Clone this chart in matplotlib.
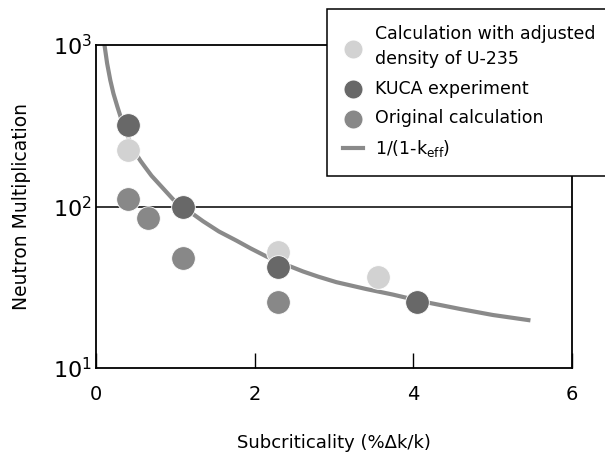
import matplotlib
matplotlib.use("Agg")
import matplotlib.pyplot as plt

plt.rcParams.update({
    "font.family": ["DejaVu Sans"],
    "font.size": 13,
    "mathtext.default": "regular",
})

# data (x in %dk/k, y = neutron multiplication)
adj_x = [0.40, 2.30, 3.55]
adj_y = [225, 52, 36.7]

kuca_x = [0.40, 1.10, 2.30, 4.05]
kuca_y = [318, 99, 42, 25.8]

orig_x = [0.40, 0.65, 1.10, 2.30]
orig_y = [111.7, 84.5, 47.8, 25.7]

curve_x = [0.11, 0.14, 0.18, 0.22, 0.27, 0.33, 0.40, 0.45, 0.50, 0.56, 0.62,
           0.70, 0.83, 0.97, 1.10, 1.22, 1.35, 1.55, 1.77, 1.95, 2.15, 2.40,
           2.61, 2.80, 3.03, 3.41, 3.74, 4.10, 4.59, 5.00, 5.45]
curve_y = [976, 770, 606, 500, 414, 335, 272, 240, 214, 192, 175,
           155, 132, 111, 99, 90, 81, 70, 61.5, 55, 49, 43.5,
           39.6, 36.8, 34.0, 30.8, 28.5, 25.9, 23.2, 21.3, 19.8]

c_light = '#d2d2d2'
c_dark = '#686868'
c_mid = '#888888'
c_curve = '#8a8a8a'

fig = plt.figure(figsize=(6.05, 4.62), dpi=100)
ax = fig.add_axes([96 / 605, 94 / 462, 476 / 605, 323 / 462])

ax.set_yscale('log')
ax.set_xlim(0, 6)
ax.set_ylim(10, 1000)

ax.axhline(100, color='black', lw=1.1, zorder=1)
ax.plot(curve_x, curve_y, color=c_curve, lw=3, zorder=2, label=r'1/(1-k$_{eff}$)')

ms = 290
ax.scatter(adj_x, adj_y, s=ms, color=c_light, edgecolor='white', linewidth=0.6, zorder=3,
           label='Calculation with adjusted\ndensity of U-235')
ax.scatter(orig_x, orig_y, s=ms, color=c_mid, edgecolor='white', linewidth=0.6, zorder=3,
           label='Original calculation')
ax.scatter(kuca_x, kuca_y, s=ms, color=c_dark, edgecolor='white', linewidth=0.6, zorder=4,
           label='KUCA experiment')

ax.set_xticks([0, 2, 4, 6])
ax.set_xticklabels(['0', '2', '4', '6'])
ax.tick_params(axis='x', direction='in', length=11, width=1, pad=12, labelsize=14)
ax.set_yticks([10, 100, 1000])
ax.yaxis.set_minor_locator(matplotlib.ticker.NullLocator())
ax.tick_params(axis='y', length=0, pad=3, labelsize=16)

for s in ax.spines.values():
    s.set_linewidth(1.3)

ax.set_xlabel('Subcriticality (%\u0394k/k)', fontsize=13, labelpad=22)
ax.set_ylabel('Neutron Multiplication', fontsize=13.5, labelpad=16)

h, l = ax.get_legend_handles_labels()
order = [1, 3, 2, 0]
leg = fig.legend([h[i] for i in order], [l[i] for i in order],
                 loc='upper left', bbox_to_anchor=(327 / 605, 1 - 9 / 462),
                 frameon=True, fancybox=False, framealpha=1, edgecolor='black',
                 fontsize=12.5, markerscale=0.8, handlelength=1.1, handletextpad=0.7,
                 labelspacing=0.65, borderpad=0.95, borderaxespad=0)
leg.get_frame().set_linewidth(1.1)
leg.set_zorder(10)
for t in leg.get_texts():
    t.set_linespacing(1.5)

fig.savefig('out.png', dpi=100)
